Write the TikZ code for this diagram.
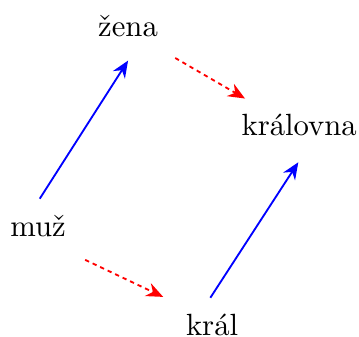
\documentclass[tikz,border=0pt]{standalone}
\usepackage{fontspec}
\usepackage{tikz}
\usetikzlibrary{arrows.meta,calc}

\begin{document}
\begin{tikzpicture}[>={Stealth[length=5.5pt,width=4.6pt]},
  word/.style={anchor=base},
  vec/.style={->,semithick,blue},
  offset/.style={->,semithick,red,dash pattern=on 1.4pt off 1.3pt}]
\useasboundingbox (0,0) rectangle (4.11,3.85);
\node[word] (muz) at (0.435,1.145) {muž};
\node[word] (zena) at (1.466,3.436) {žena};
\node[word] (kral) at (2.428,0.011) {král};
\node[word] (kralovna) at (3.425,2.302) {královna};
\draw[vec] ([shift={(0.02,0.43)}]muz.base) -- ([shift={(0,-0.28)}]zena.base);
\draw[vec] ([shift={(-0.02,0.43)}]kral.base) -- ([shift={(-0.01,-0.31)}]kralovna.base);
\draw[offset] ([shift={(0.54,-0.25)}]zena.base) -- ([shift={(-0.62,0.42)}]kralovna.base);
\draw[offset] ([shift={(0.54,-0.27)}]muz.base) -- ([shift={(-0.56,0.44)}]kral.base);
\end{tikzpicture}
\end{document}
